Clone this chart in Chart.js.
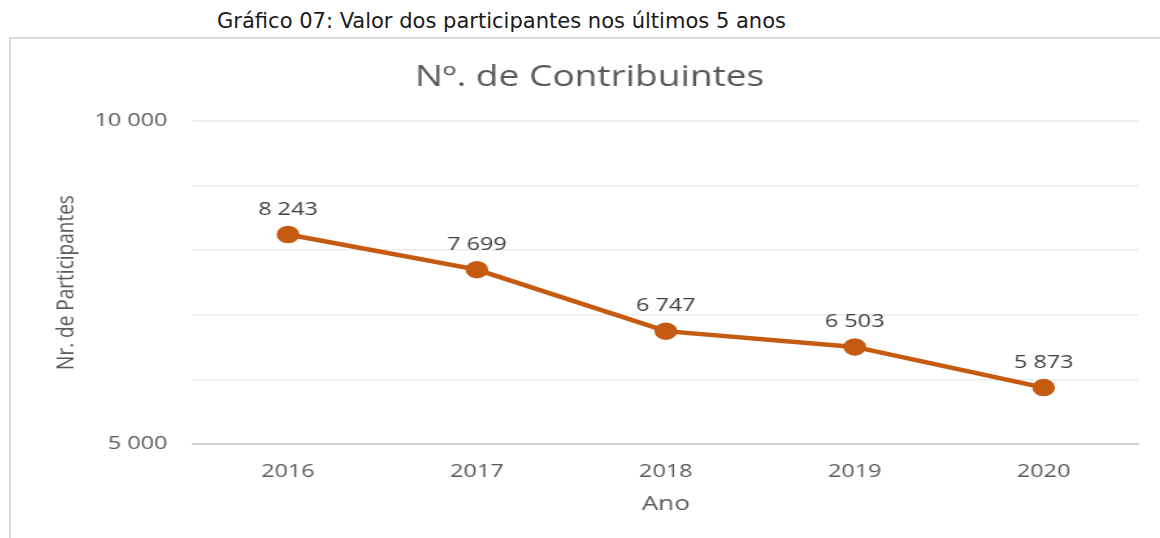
<!DOCTYPE html>
<html>
<head>
<meta charset="utf-8">
<script src="https://cdn.jsdelivr.net/npm/chart.js@4.4.1/dist/chart.umd.min.js"></script>
<style>
  html, body { margin: 0; padding: 0; background: #fff; width: 1160px; height: 538px; overflow: hidden; }
  #caption { position: absolute; left: 217px; top: 9px; font-family: 'Liberation Sans Narrow', 'DejaVu Sans Condensed', sans-serif; font-size: 21px; color: #1a1a1a; white-space: nowrap; transform-origin: 0 0; }
  #box { position: absolute; left: 9px; top: 37px; width: 1151px; height: 501px; border-top: 2px solid #d9d9d9; border-left: 2px solid #d9d9d9; box-sizing: border-box; overflow: hidden; }
  #c { position: absolute; left: 0; top: 0; transform: scaleX(1.3); transform-origin: 0 0; }
</style>
</head>
<body>
<div id="caption">Gráfico 07: Valor dos participantes nos últimos 5 anos</div>
<div id="box"><canvas id="c" width="885" height="499"></canvas></div>
<script>
const chartTitle = 'Nº. de Contribuintes';
const yAxisTitle = 'Nr. de Participantes';
const xAxisTitle = 'Ano';
const categories = ['2016', '2017', '2018', '2019', '2020'];
const participantes = [8243, 7699, 6747, 6503, 5873];
const yLabeledTicks = [5000, 10000];

// fit caption width
(function(){
  const cap = document.getElementById('caption');
  const w = cap.getBoundingClientRect().width;
  cap.style.transform = 'scaleX(' + (569 / w) + ')';
})();

function fmt(v) {
  return String(v).replace(/\B(?=(\d{3})+(?!\d))/g, ' ');
}

const dataLabelPlugin = {
  id: 'dataLabels',
  afterDatasetsDraw(chart) {
    const ctx = chart.ctx;
    const meta = chart.getDatasetMeta(0);
    ctx.save();
    ctx.font = '18px "Open Sans"';
    ctx.fillStyle = '#404040';
    ctx.textAlign = 'center';
    ctx.textBaseline = 'middle';
    meta.data.forEach((pt, i) => {
      ctx.fillText(fmt(chart.data.datasets[0].data[i]), pt.x, pt.y - 25);
    });
    ctx.restore();
  }
};

// nudge title centre slightly right, as in the reference
const titleShiftPlugin = {
  id: 'titleShift',
  afterLayout(chart) {
    if (chart.titleBlock) {
      chart.titleBlock.left += 23;
      chart.titleBlock.width = chart.titleBlock.right - chart.titleBlock.left;
    }
  }
};

new Chart(document.getElementById('c'), {
  type: 'line',
  data: {
    labels: categories,
    datasets: [{
      data: participantes,
      borderColor: '#c55a11',
      backgroundColor: '#c55a11',
      borderWidth: 4.5,
      pointRadius: 6.5,
      pointHoverRadius: 6.5,
      pointBackgroundColor: '#c55a11',
      pointBorderColor: '#c55a11',
      tension: 0
    }]
  },
  options: {
    responsive: false,
    animation: false,
    events: [],
    layout: { padding: { left: 0, right: 18, top: 0, bottom: 0 } },
    plugins: {
      legend: { display: false },
      tooltip: { enabled: false },
      title: {
        display: true,
        text: chartTitle,
        color: '#595959',
        font: { family: 'Open Sans', size: 28.5, weight: 'normal' },
        padding: { top: 22, bottom: 25.8 }
      }
    },
    scales: {
      x: {
        offset: true,
        grid: { display: false, drawTicks: false },
        border: { display: true, color: '#d4d4d4', width: 2 },
        ticks: { color: '#595959', font: { family: 'Open Sans', size: 18 }, padding: 17 },
        title: {
          display: true, text: xAxisTitle, color: '#595959',
          font: { family: 'Open Sans', size: 20 }, padding: { top: 0, bottom: 22 }
        },
        afterFit(scale) { scale.height = 94; }
      },
      y: {
        min: 5000, max: 10000,
        grid: { color: '#ebebeb', lineWidth: 1.5, drawTicks: false },
        border: { display: false },
        ticks: {
          stepSize: 1000,
          color: '#595959',
          font: { family: 'Open Sans', size: 18 },
          padding: 20,
          callback: (v) => yLabeledTicks.includes(v) ? fmt(v) : ''
        },
        title: {
          display: true, text: yAxisTitle, color: '#595959',
          font: { family: 'Open Sans', size: 19 }, padding: { top: 31, bottom: 0 }
        },
        afterFit(scale) { scale.width = 140.4; }
      }
    }
  },
  plugins: [dataLabelPlugin, titleShiftPlugin]
});
</script>
</body>
</html>
